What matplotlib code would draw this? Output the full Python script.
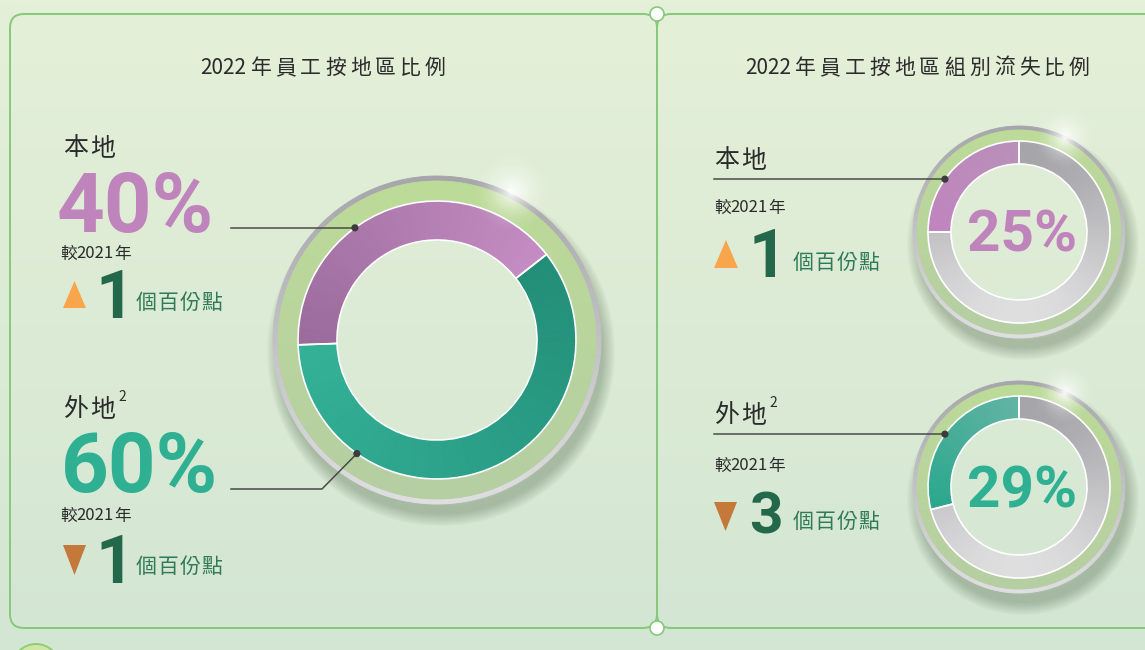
import re
import numpy as np
import matplotlib
matplotlib.use("Agg")
import matplotlib.pyplot as plt
from matplotlib.patches import Wedge, Circle, Polygon, FancyBboxPatch
from matplotlib.colors import to_rgb

# ---- data ----
titles = ["2022年員工按地區比例", "2022年員工按地區組別流失比例"]
regions = ["本地", "外地"]
headcount_share = [40, 60]          # % of staff by region
headcount_change = [1, -1]          # pp vs 2021
turnover_rate = [25, 29]            # % turnover by region
turnover_change = [1, -3]           # pp vs 2021
compare_label = "較2021年"
unit_label = "個百份點"

PURPLE = "#c084bc"
TEAL = "#2fb092"
DARK_GREEN = "#23684a"
UNIT_GREEN = "#2f7a58"
TXT = "#2b2b2b"
UP = "#f9a54b"
DOWN = "#c4783a"
CJK = ["Noto Sans CJK TC", "DejaVu Sans"]
NUM = ["Roboto", "Liberation Sans", "DejaVu Sans"]

fig = plt.figure(figsize=(11.45, 6.5), dpi=100)
ax = fig.add_axes([0, 0, 1, 1])
ax.set_xlim(0, 1145)
ax.set_ylim(650, 0)
ax.axis("off")
renderer = fig.canvas.get_renderer()


def mix(c1, c2, t):
    a, b = np.array(to_rgb(c1)), np.array(to_rgb(c2))
    return tuple(a + (b - a) * t)


def put(x, y, s, track=0.0, ha="left", va="center", **kw):
    # ascii runs stay together, other chars get extra letter spacing
    tokens = re.findall(r"[ -~]+|.", s)
    items = []
    for tok in tokens:
        t = ax.text(0, y, tok, ha="left", va=va, zorder=9, **kw)
        w = t.get_window_extent(renderer).width
        items.append((t, w))
    total = sum(w for _, w in items) + track * (len(items) - 1)
    cx = x - total / 2 if ha == "center" else x
    for t, w in items:
        t.set_x(cx)
        cx += w + track
    return cx - track


def band(c, r, w, a0, a1, col0, col1, n=60, shade=None):
    # visual angles (deg, ccw from east); y axis is flipped so negate
    edges = np.linspace(a0, a1, n + 1)
    for i in range(n):
        lo, hi = edges[i], edges[i + 1]
        mid = np.radians((lo + hi) / 2)
        t = i / (n - 1) if shade is None else shade(mid)
        col = mix(col0, col1, t)
        ax.add_patch(Wedge(c, r, -max(lo, hi), -min(lo, hi), width=w,
                           facecolor=col, edgecolor=col, lw=0.6, zorder=3))


def outline(c, r, w, a0, a1):
    ax.add_patch(Wedge(c, r, -max(a0, a1), -min(a0, a1), width=w,
                       facecolor="none", edgecolor="white", lw=1.2, zorder=4))


def glow(cx, cy, r):
    n = 120
    xs = np.linspace(-1, 1, n)
    xx, yy = np.meshgrid(xs, xs)
    d = np.sqrt(xx ** 2 + yy ** 2)
    a = np.clip(1 - d, 0, 1) ** 2.0
    img = np.ones((n, n, 4))
    img[..., 3] = a * 0.95
    ax.imshow(img, extent=[cx - r, cx + r, cy + r, cy - r], zorder=6,
              interpolation="bilinear")


def shell(c, r_rim, r_green, r_data):
    cx, cy = c
    for k in range(12):
        ax.add_patch(Wedge((cx + 4, cy + 12), r_rim + 10 - k * 1.1, 0, 360, width=20,
                           facecolor="#4f6449", edgecolor="none", alpha=0.03, zorder=1))
    band(c, r_rim, r_rim - r_green, -90, 270, "#e6e6e8", "#9e9ea4", n=90,
         shade=lambda m: (np.sin(m) + 1) / 2 * 0.8 + 0.1)
    band(c, r_green, r_green - r_data, -90, 270, "#b5cea2", "#bcda98", n=90,
         shade=lambda m: (np.sin(m) + 1) / 2)


# ---- background ----
grad = np.linspace(0, 1, 200)
bg = np.array([mix("#e5f0d8", "#d3e6d3", g) for g in grad])[:, None, :]
ax.imshow(bg, extent=[0, 1145, 650, 0], aspect="auto", zorder=0)

for x0, x1 in [(10, 657), (657, 1175)]:
    ax.add_patch(FancyBboxPatch((x0, 14), x1 - x0, 614,
                                boxstyle="round,pad=0,rounding_size=14",
                                facecolor="none", edgecolor="#86c97a", lw=1.4, zorder=2))
for yy in (14, 628):
    ax.add_patch(Circle((657, yy), 7, facecolor="white", edgecolor="#86c97a", lw=1.2, zorder=3))
ax.add_patch(Circle((36, 668), 24, facecolor="#cfe6a6", edgecolor="#8fcf6f", lw=1.4, zorder=3))

# ---- left donut: headcount share ----
cL = (437, 340)
shell(cL, 164, 159, 139)
start = 182
split = start - headcount_share[0] * 3.6
band(cL, 139, 39, start, split, "#9b6b9c", "#c48cc2")
band(cL, 139, 39, split, start - 360, "#238e78", "#33b197")
outline(cL, 139, 39, split, start)
outline(cL, 139, 39, start - 360, split)
glow(512, 192, 44)

put(323, 68, titles[0], track=4, ha="center", fontsize=15, color=TXT, family=CJK)

blocks = [(148, 232, 254, 318, 303), (409, 492, 516, 583, 567)]
cols = [PURPLE, TEAL]
for i, (yl, yp, yc, yn, yu) in enumerate(blocks):
    end = put(63, yl, regions[i], track=2, fontsize=18, color=TXT, family=CJK)
    if i == 1:
        ax.text(end + 3, yl - 12, "2", fontsize=10, color=TXT, va="center", family=CJK)
    put(57 if i == 0 else 61, yp, f"{headcount_share[i]}%", va="baseline",
        fontsize=60, fontweight="bold", color=cols[i], family=NUM)
    put(60, yc, compare_label, fontsize=12, color=TXT, family=CJK)
    if headcount_change[i] > 0:
        tri = [(63, 308), (86, 308), (74.5, 281)]
        tc = UP
    else:
        tri = [(63, 545), (86, 545), (74.5, 575)]
        tc = DOWN
    ax.add_patch(Polygon(tri, closed=True, facecolor=tc, edgecolor="none", zorder=4))
    put(95, yn, str(abs(headcount_change[i])), va="baseline", fontsize=48.5,
        fontweight="bold", color=DARK_GREEN, family=NUM)
    put(136, yu, unit_label, track=1, fontsize=15, color=UNIT_GREEN, family=CJK)

# callout lines, left
for ang, pts in [(126.2, []), (234.8, [(231, 489), (322, 489)])]:
    dx = cL[0] + 139 * np.cos(np.radians(ang))
    dy = cL[1] - 139 * np.sin(np.radians(ang))
    if not pts:
        xs, ys = [231, dx], [dy, dy]
    else:
        xs = [p[0] for p in pts] + [dx]
        ys = [p[1] for p in pts] + [dy]
    ax.plot(xs, ys, color="#4a4a4a", lw=1.1, zorder=7)
    ax.add_patch(Circle((dx, dy), 3.6, facecolor="#3c3c3c", edgecolor="none", zorder=8))

# ---- right donuts: turnover ----
put(917, 68, titles[1], track=4, ha="center", fontsize=15, color=TXT, family=CJK)
centers = [(1019, 232), (1019, 487)]
seg_cols = [("#b990b9", "#c084be"), ("#62b4a3", "#2aa78d")]
ylines = [(160, 208, 277, 263), (415, 466, 533, 522)]
pct_base = [251, 507]
for i, c in enumerate(centers):
    shell(c, 106, 102, 91)
    stop = 90 + turnover_rate[i] * 3.6
    band(c, 91, 23, 90, stop, *seg_cols[i])
    band(c, 91, 23, stop, 450, "#dededf", "#a5a5aa", n=90,
         shade=lambda m: (np.sin(m) + 1) / 2)
    outline(c, 91, 23, 90, stop)
    outline(c, 91, 23, stop, 450)
    glow(c[0] + 46, c[1] - 94, 34)
    put(c[0] + 3, pct_base[i], f"{turnover_rate[i]}%", ha="center", va="baseline",
        fontsize=42, fontweight="bold", color=cols[i], family=NUM)

    yl, yc, yn, yu = ylines[i]
    end = put(714, yl, regions[i], track=2, fontsize=18, color=TXT, family=CJK)
    if i == 1:
        ax.text(end + 3, yl - 12, "2", fontsize=10, color=TXT, va="center", family=CJK)
    ang = np.radians(144.5)
    dx, dy = c[0] + 91 * np.cos(ang), c[1] - 91 * np.sin(ang)
    ax.plot([714, dx], [dy, dy], color="#4a4a4a", lw=1.1, zorder=7)
    ax.add_patch(Circle((dx, dy), 3.6, facecolor="#3c3c3c", edgecolor="none", zorder=8))
    put(714, yc, compare_label, fontsize=12, color=TXT, family=CJK)
    if turnover_change[i] > 0:
        tri = [(714, 268), (738, 268), (726, 240)]
        tc = UP
    else:
        tri = [(714, 502), (737, 502), (725.5, 531)]
        tc = DOWN
    ax.add_patch(Polygon(tri, closed=True, facecolor=tc, edgecolor="none", zorder=4))
    put(749, yn, str(abs(turnover_change[i])), va="baseline",
        fontsize=48 if turnover_change[i] > 0 else 42,
        fontweight="bold", color=DARK_GREEN, family=NUM)
    put(793, yu, unit_label, track=1, fontsize=15, color=UNIT_GREEN, family=CJK)

fig.savefig("out.png", dpi=100)
